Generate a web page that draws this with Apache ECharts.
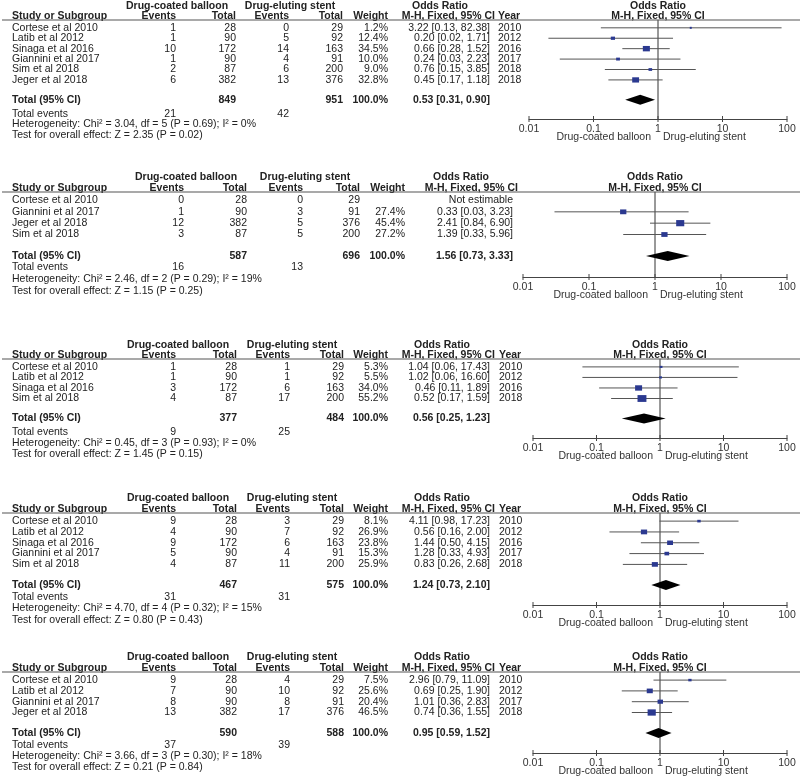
<!DOCTYPE html>
<html><head><meta charset="utf-8">
<script src="https://cdn.jsdelivr.net/npm/echarts@6/dist/echarts.min.js"></script>
<style>html,body{margin:0;padding:0;background:#fff}#c{width:800px;height:777px}</style>
</head><body><div id="c"></div>
<script>
// ---------- DATA ----------
const tickValues = [0.01, 0.1, 1, 10, 100];
const tickLabels = ['0.01', '0.1', '1', '10', '100'];
const groupNames = ['Drug-coated balloon', 'Drug-eluting stent'];

// Panel 1
const studies1 = ['Cortese et al 2010', 'Latib et al 2012', 'Sinaga et al 2016', 'Giannini et al 2017', 'Sim et al 2018', 'Jeger et al 2018'];
const dcbEvents1 = [1, 1, 10, 1, 2, 6];
const dcbTotal1 = [28, 90, 172, 90, 87, 382];
const desEvents1 = [0, 5, 14, 4, 6, 13];
const desTotal1 = [29, 92, 163, 91, 200, 376];
const weight1 = [1.2, 12.4, 34.5, 10.0, 9.0, 32.8];
const or1 = [3.22, 0.20, 0.66, 0.24, 0.76, 0.45];
const lo1 = [0.13, 0.02, 0.28, 0.03, 0.15, 0.17];
const hi1 = [82.38, 1.71, 1.52, 2.23, 3.85, 1.18];
const years1 = [2010, 2012, 2016, 2017, 2018, 2018];
const totalN1 = [849, 951];
const totalOR1 = [0.53, 0.31, 0.90];
const totalEvents1 = [21, 42];
const het1 = 'Heterogeneity: Chi² = 3.04, df = 5 (P = 0.69); I² = 0%';
const test1 = 'Test for overall effect: Z = 2.35 (P = 0.02)';

// Panel 2
const studies2 = ['Cortese et al 2010', 'Giannini et al 2017', 'Jeger et al 2018', 'Sim et al 2018'];
const dcbEvents2 = [0, 1, 12, 3];
const dcbTotal2 = [28, 90, 382, 87];
const desEvents2 = [0, 3, 5, 5];
const desTotal2 = [29, 91, 376, 200];
const weight2 = [null, 27.4, 45.4, 27.2];
const or2 = [null, 0.33, 2.41, 1.39];
const lo2 = [null, 0.03, 0.84, 0.33];
const hi2 = [null, 3.23, 6.90, 5.96];
const years2 = null;
const totalN2 = [587, 696];
const totalOR2 = [1.56, 0.73, 3.33];
const totalEvents2 = [16, 13];
const het2 = 'Heterogeneity: Chi² = 2.46, df = 2 (P = 0.29); I² = 19%';
const test2 = 'Test for overall effect: Z = 1.15 (P = 0.25)';

// Panel 3
const studies3 = ['Cortese et al 2010', 'Latib et al 2012', 'Sinaga et al 2016', 'Sim et al 2018'];
const dcbEvents3 = [1, 1, 3, 4];
const dcbTotal3 = [28, 90, 172, 87];
const desEvents3 = [1, 1, 6, 17];
const desTotal3 = [29, 92, 163, 200];
const weight3 = [5.3, 5.5, 34.0, 55.2];
const or3 = [1.04, 1.02, 0.46, 0.52];
const lo3 = [0.06, 0.06, 0.11, 0.17];
const hi3 = [17.43, 16.60, 1.89, 1.59];
const years3 = [2010, 2012, 2016, 2018];
const totalN3 = [377, 484];
const totalOR3 = [0.56, 0.25, 1.23];
const totalEvents3 = [9, 25];
const het3 = 'Heterogeneity: Chi² = 0.45, df = 3 (P = 0.93); I² = 0%';
const test3 = 'Test for overall effect: Z = 1.45 (P = 0.15)';

// Panel 4
const studies4 = ['Cortese et al 2010', 'Latib et al 2012', 'Sinaga et al 2016', 'Giannini et al 2017', 'Sim et al 2018'];
const dcbEvents4 = [9, 4, 9, 5, 4];
const dcbTotal4 = [28, 90, 172, 90, 87];
const desEvents4 = [3, 7, 6, 4, 11];
const desTotal4 = [29, 92, 163, 91, 200];
const weight4 = [8.1, 26.9, 23.8, 15.3, 25.9];
const or4 = [4.11, 0.56, 1.44, 1.28, 0.83];
const lo4 = [0.98, 0.16, 0.50, 0.33, 0.26];
const hi4 = [17.23, 2.00, 4.15, 4.93, 2.68];
const years4 = [2010, 2012, 2016, 2017, 2018];
const totalN4 = [467, 575];
const totalOR4 = [1.24, 0.73, 2.10];
const totalEvents4 = [31, 31];
const het4 = 'Heterogeneity: Chi² = 4.70, df = 4 (P = 0.32); I² = 15%';
const test4 = 'Test for overall effect: Z = 0.80 (P = 0.43)';

// Panel 5
const studies5 = ['Cortese et al 2010', 'Latib et al 2012', 'Giannini et al 2017', 'Jeger et al 2018'];
const dcbEvents5 = [9, 7, 8, 13];
const dcbTotal5 = [28, 90, 90, 382];
const desEvents5 = [4, 10, 8, 17];
const desTotal5 = [29, 92, 91, 376];
const weight5 = [7.5, 25.6, 20.4, 46.5];
const or5 = [2.96, 0.69, 1.01, 0.74];
const lo5 = [0.79, 0.25, 0.36, 0.36];
const hi5 = [11.09, 1.90, 2.83, 1.55];
const years5 = [2010, 2012, 2017, 2018];
const totalN5 = [590, 588];
const totalOR5 = [0.95, 0.59, 1.52];
const totalEvents5 = [37, 39];
const het5 = 'Heterogeneity: Chi² = 3.66, df = 3 (P = 0.30); I² = 18%';
const test5 = 'Test for overall effect: Z = 0.21 (P = 0.84)';

// ---------- ASSEMBLY ----------
const panels = [
  {studies: studies1, dcbE: dcbEvents1, dcbT: dcbTotal1, desE: desEvents1, desT: desTotal1, weight: weight1, or: or1, lo: lo1, hi: hi1, years: years1, totN: totalN1, totOR: totalOR1, totE: totalEvents1, het: het1, test: test1},
  {studies: studies2, dcbE: dcbEvents2, dcbT: dcbTotal2, desE: desEvents2, desT: desTotal2, weight: weight2, or: or2, lo: lo2, hi: hi2, years: years2, totN: totalN2, totOR: totalOR2, totE: totalEvents2, het: het2, test: test2},
  {studies: studies3, dcbE: dcbEvents3, dcbT: dcbTotal3, desE: desEvents3, desT: desTotal3, weight: weight3, or: or3, lo: lo3, hi: hi3, years: years3, totN: totalN3, totOR: totalOR3, totE: totalEvents3, het: het3, test: test3},
  {studies: studies4, dcbE: dcbEvents4, dcbT: dcbTotal4, desE: desEvents4, desT: desTotal4, weight: weight4, or: or4, lo: lo4, hi: hi4, years: years4, totN: totalN4, totOR: totalOR4, totE: totalEvents4, het: het4, test: test4},
  {studies: studies5, dcbE: dcbEvents5, dcbT: dcbTotal5, desE: desEvents5, desT: desTotal5, weight: weight5, or: or5, lo: lo5, hi: hi5, years: years5, totN: totalN5, totOR: totalOR5, totE: totalEvents5, het: het5, test: test5}
];

// layout (pixels)
const colsA = {name: 12, dcbE: 176, dcbT: 237, desE: 290, desT: 344, wt: 388, orT: 490, yr: 499, g1: 178, g2: 292, orH: 442, foot: 0};
const layouts = [
  Object.assign({}, colsA, {top: 20, axisY: 119, x0: 529, dcbT: 236, desE: 289, desT: 343, yr: 498, g1: 177, g2: 290, orH: 440, foot: 2.5}),
  Object.assign({}, colsA, {top: 192, axisY: 277, x0: 523, dcbE: 184, dcbT: 247, desE: 303, desT: 360, wt: 405, orT: 513, yr: null, g1: 186, g2: 305, orH: 461, foot: -1}),
  Object.assign({}, colsA, {top: 359, axisY: 438, x0: 533, foot: 2}),
  Object.assign({}, colsA, {top: 513, axisY: 605, x0: 533}),
  Object.assign({}, colsA, {top: 672, axisY: 753, x0: 533})
];
const X100 = 787;

const FONT = '"Liberation Sans", Arial, Helvetica, sans-serif';
const FS = '10.5px ';
const TXT = '#222';
function txt(x, y, text, align, bold, color) {
  return {type: 'text', style: {x: x, y: y, text: String(text), align: align, verticalAlign: 'middle',
    textAlign: align, textVerticalAlign: 'middle', font: (bold ? 'bold ' : '') + FS + FONT, fill: color || TXT}};
}
function ln(x1, y1, x2, y2, color, w) {
  return {type: 'line', shape: {x1: x1, y1: y1, x2: x2, y2: y2}, style: {stroke: color, lineWidth: w}};
}
function fmtOR(o, l, h) { return o.toFixed(2) + ' [' + l.toFixed(2) + ', ' + h.toFixed(2) + ']'; }

const grids = [], xAxes = [], yAxes = [], series = [];

panels.forEach(function (P, p) {
  const L = layouts[p];
  const n = P.studies.length;
  const axisRow = n + 2.75;
  grids.push({left: L.x0, width: X100 - L.x0, top: L.top, height: L.axisY - L.top});
  xAxes.push({type: 'log', logBase: 10, min: 0.01, max: 100, gridIndex: p,
    axisLine: {show: true, onZero: false, lineStyle: {color: '#444', width: 1}},
    axisTick: {show: false}, splitLine: {show: false}, minorTick: {show: false},
    axisLabel: {margin: 5, fontSize: 10.5, color: '#333', fontFamily: FONT,
      formatter: function (v) { return tickLabels[Math.round(Math.log10(v)) + 2]; }}});
  yAxes.push({type: 'value', gridIndex: p, min: -0.75, max: axisRow, inverse: true, show: false});

  const common = {type: 'custom', xAxisIndex: p, yAxisIndex: p, silent: true, clip: false};

  // headers
  series.push(Object.assign({}, common, {
    data: [[1, -2.1]],
    renderItem: function (params, api) {
      const y1 = api.coord([1, -2.1])[1], y2 = api.coord([1, -1.1])[1], yl = api.coord([1, -0.75])[1];
      const xOne = api.coord([1, 0])[0];
      const c = [
        txt(L.g1, y1, groupNames[0], 'center', true),
        txt(L.g2, y1, groupNames[1], 'center', true),
        txt(L.orH, y1, 'Odds Ratio', 'center', true),
        txt(xOne, y1, 'Odds Ratio', 'center', true),
        txt(L.name, y2, 'Study or Subgroup', 'left', true),
        txt(L.dcbE, y2, 'Events', 'right', true),
        txt(L.dcbT, y2, 'Total', 'right', true),
        txt(L.desE, y2, 'Events', 'right', true),
        txt(L.desT, y2, 'Total', 'right', true),
        txt(L.wt, y2, 'Weight', 'right', true),
        txt(L.orT + 5, y2, 'M-H, Fixed, 95% CI', 'right', true),
        txt(xOne, y2, 'M-H, Fixed, 95% CI', 'center', true),
        ln(2, yl, 800, yl, '#555', 1.2)
      ];
      if (L.yr != null) c.push(txt(L.yr, y2, 'Year', 'left', true));
      return {type: 'group', children: c};
    }
  }));

  // reference line at OR = 1
  series.push({type: 'line', xAxisIndex: p, yAxisIndex: p, silent: true, symbol: 'none',
    data: [[1, -0.75], [1, axisRow]], lineStyle: {color: '#333', width: 1}, z: 1});

  // study rows
  series.push(Object.assign({}, common, {
    data: P.studies.map(function (s, i) { return [P.or[i] != null ? P.or[i] : 1, i]; }),
    renderItem: function (params, api) {
      const i = params.dataIndex;
      const y = api.coord([1, i])[1];
      const c = [
        txt(L.name, y, P.studies[i], 'left'),
        txt(L.dcbE, y, P.dcbE[i], 'right'),
        txt(L.dcbT, y, P.dcbT[i], 'right'),
        txt(L.desE, y, P.desE[i], 'right'),
        txt(L.desT, y, P.desT[i], 'right')
      ];
      if (P.years) c.push(txt(L.yr, y, P.years[i], 'left'));
      if (P.or[i] != null) {
        c.push(txt(L.wt, y, P.weight[i].toFixed(1) + '%', 'right'));
        c.push(txt(L.orT, y, fmtOR(P.or[i], P.lo[i], P.hi[i]), 'right'));
        const a = api.coord([P.lo[i], i]), b = api.coord([P.hi[i], i]), m = api.coord([P.or[i], i]);
        c.push(ln(a[0], a[1], b[0], b[1], '#555', 1));
        const sq = Math.sqrt(P.weight[i]);
        const w = Math.max(2, 1.2 * sq), h = Math.max(2, 0.92 * sq);
        c.push({type: 'rect', shape: {x: m[0] - w / 2, y: m[1] - h / 2, width: w, height: h}, style: {fill: '#2b3990'}});
      } else {
        c.push(txt(L.orT, y, 'Not estimable', 'right'));
      }
      return {type: 'group', children: c};
    }
  }));

  // totals, diamond, footer
  series.push(Object.assign({}, common, {
    data: [[P.totOR[0], n + 0.9]],
    renderItem: function (params, api) {
      const rT = n + 0.9;
      const yT = api.coord([1, rT])[1];
      const yE = api.coord([1, n + 2])[1] + L.foot;
      const yH = api.coord([1, n + 3])[1] + L.foot;
      const yS = api.coord([1, n + 4.1])[1] + L.foot;
      const one = api.coord([1, axisRow]);
      const lo = api.coord([P.totOR[1], rT]), mid = api.coord([P.totOR[0], rT]), hi = api.coord([P.totOR[2], rT]);
      const dh = 5;
      return {type: 'group', children: [
        txt(L.name, yT, 'Total (95% CI)', 'left', true),
        txt(L.dcbT, yT, P.totN[0], 'right', true),
        txt(L.desT, yT, P.totN[1], 'right', true),
        txt(L.wt, yT, '100.0%', 'right', true),
        txt(L.orT, yT, fmtOR(P.totOR[0], P.totOR[1], P.totOR[2]), 'right', true),
        {type: 'polygon', shape: {points: [[lo[0], yT], [mid[0], yT - dh], [hi[0], yT], [mid[0], yT + dh]]}, style: {fill: '#000'}},
        txt(L.name, yE, 'Total events', 'left'),
        txt(L.dcbE, yE, P.totE[0], 'right'),
        txt(L.desE, yE, P.totE[1], 'right'),
        txt(L.name, yH, P.het, 'left'),
        txt(L.name, yS, P.test, 'left'),
        txt(one[0] - 7, one[1] + 18, groupNames[0], 'right', false, '#333'),
        txt(one[0] + 5, one[1] + 18, groupNames[1], 'left', false, '#333')
      ]};
    }
  }));

  // axis ticks (both directions)
  series.push(Object.assign({}, common, {
    data: tickValues.map(function (v) { return [v, axisRow]; }),
    renderItem: function (params, api) {
      const pt = api.coord([api.value(0), api.value(1)]);
      return ln(pt[0], pt[1] - 3, pt[0], pt[1] + 3, '#444', 1);
    }
  }));
});

const chart = echarts.init(document.getElementById('c'), null, {renderer: 'canvas'});
chart.setOption({animation: false, backgroundColor: '#fff', grid: grids, xAxis: xAxes, yAxis: yAxes, series: series});
</script>
</body></html>
